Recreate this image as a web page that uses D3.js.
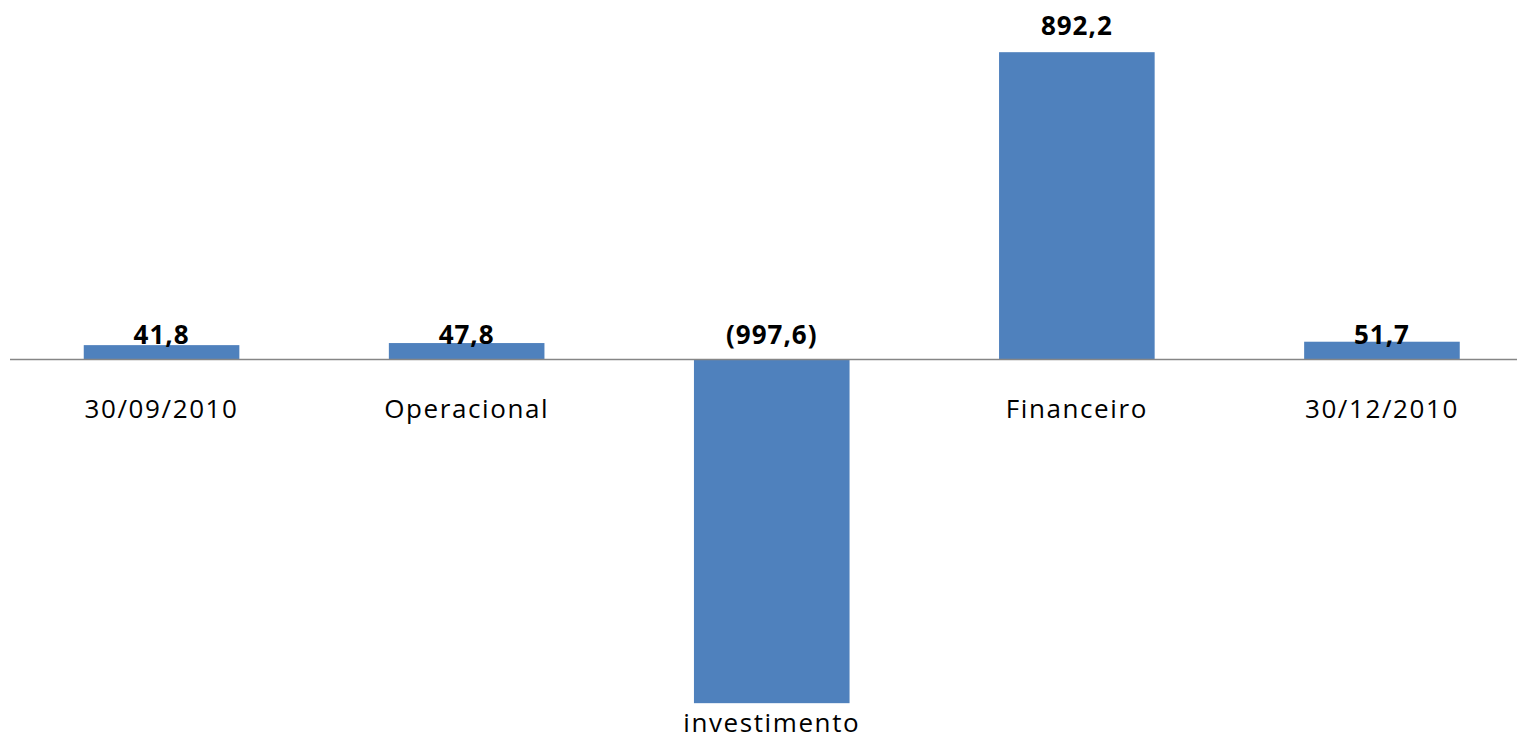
<!DOCTYPE html>
<html>
<head>
<meta charset="utf-8">
<script src="https://cdn.jsdelivr.net/npm/d3@7"></script>
<style>
  body { margin: 0; background: #fff; }
  svg { display: block; }
</style>
</head>
<body>
<svg id="chart" width="1517" height="738"></svg>
<script>
// fluxo de caixa, trimestre
const categories = ["30/09/2010", "Operacional", "investimento", "Financeiro", "30/12/2010"];
const values = [41.8, 47.8, -997.6, 892.2, 51.7];
const valueLabels = ["41,8", "47,8", "(997,6)", "892,2", "51,7"];

const data = categories.map((c, i) => ({ cat: c, value: values[i], label: valueLabels[i] }));

var svg = d3.select("#chart"),
    width = +svg.attr("width"),
    height = +svg.attr("height");

var x = d3.scaleBand()
    .domain(categories)
    .range([9, 1534.5])
    .paddingInner(0.49)
    .paddingOuter(0.245);

var y = d3.scaleLinear()
    .domain([-1000, 900])
    .range([704, 49.5]);

// bars
svg.append("g")
  .selectAll("rect")
  .data(data)
  .join("rect")
    .attr("x", (d) => x(d.cat))
    .attr("width", x.bandwidth())
    .attr("y", (d) => y(Math.max(0, d.value)))
    .attr("height", (d) => Math.abs(y(d.value) - y(0)))
    .attr("fill", "#4F81BD");

// eixo horizontal
svg.append("line")
    .attr("x1", 10)
    .attr("x2", width)
    .attr("y1", y(0))
    .attr("y2", y(0))
    .attr("stroke", "#868686")
    .attr("stroke-width", 1.6);

// value labels (small bars sit their label just on the axis)
svg.append("g")
  .selectAll("text")
  .data(data)
  .join("text")
    .attr("x", (d) => x(d.cat) + x.bandwidth() / 2)
    .attr("y", (d) => {
      const top = y(Math.max(0, d.value));
      return (y(0) - top > 30) ? top - 17 : y(0) - 16;
    })
    .attr("text-anchor", "middle")
    .attr("font-family", "'Open Sans', sans-serif")
    .attr("font-weight", "bold")
    .attr("font-size", 26)
    .attr("letter-spacing", 1)
    .attr("fill", "#000")
    .text((d) => d.label);

// category labels
svg.append("g")
  .selectAll("text")
  .data(data)
  .join("text")
    .attr("x", (d) => x(d.cat) + x.bandwidth() / 2)
    .attr("y", (d) => d.value < 0 ? Math.min(y(d.value) + 32, height - 6) : y(0) + 58)
    .attr("text-anchor", "middle")
    .attr("font-family", "'Open Sans', sans-serif")
    .attr("font-size", 26)
    .attr("letter-spacing", 1.6)
    .attr("fill", "#000")
    .text((d) => d.cat);
</script>
</body>
</html>
